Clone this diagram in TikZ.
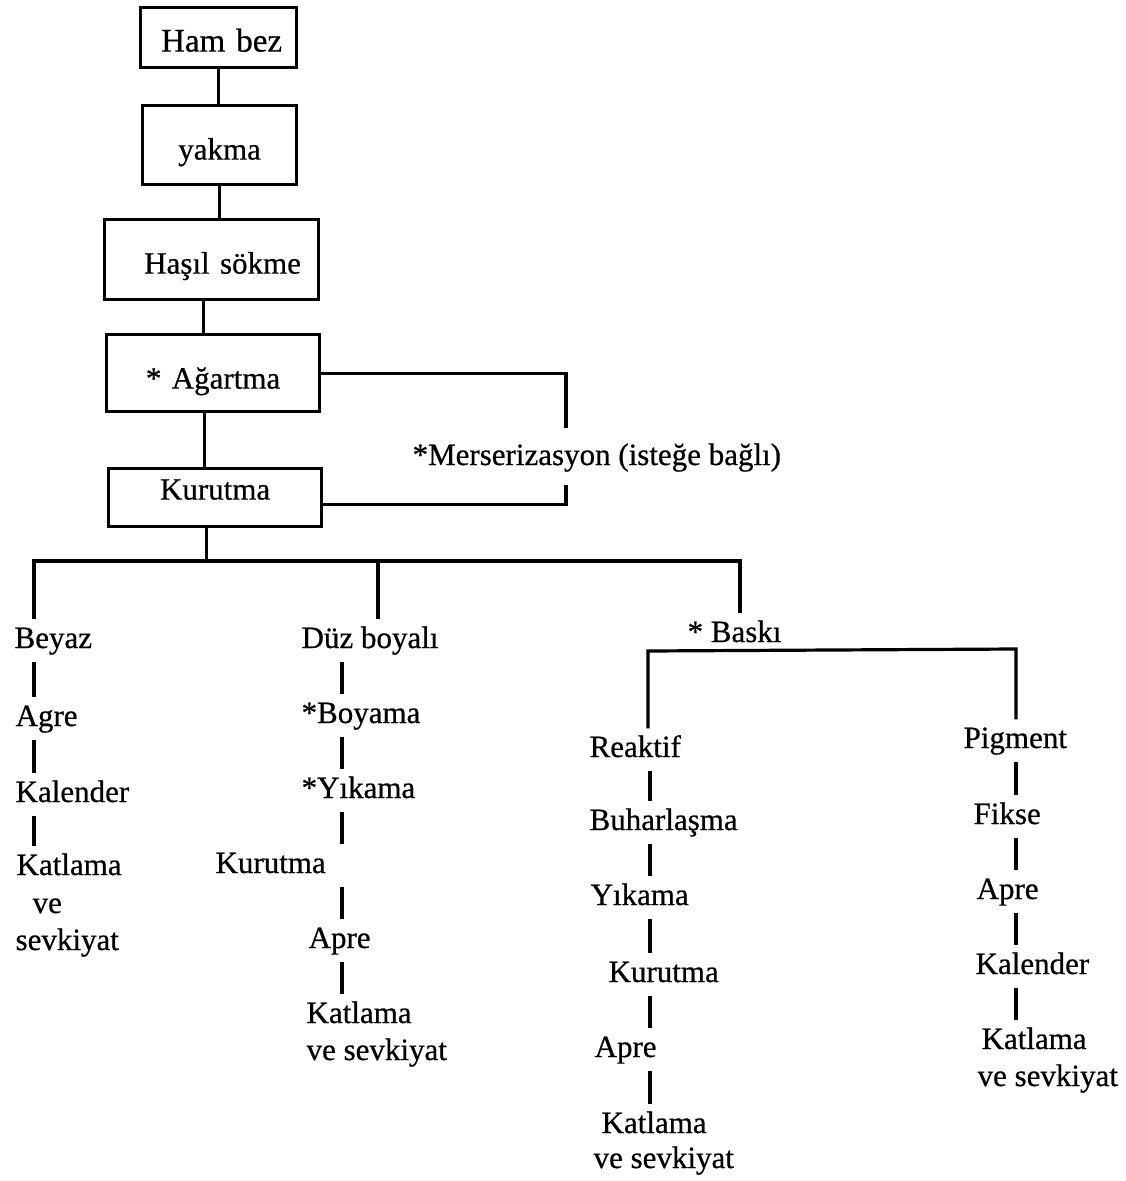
\documentclass[tikz,border=0pt]{standalone}
\usepackage{fontspec}
\setmainfont{Liberation Serif}
\newfontfamily\scanfont{Liberation Serif}[FakeBold=0.6]
\usetikzlibrary{calc}
\begin{document}
\begin{tikzpicture}[x=1pt,y=-1pt,line width=3.2pt,
  every node/.style={font=\scanfont\fontsize{31pt}{37pt}\selectfont},
  lbl/.style={inner xsep=0pt,inner ysep=5pt,text height=22pt,text depth=7pt,anchor=base west},
  boxnode/.style={draw,inner sep=0pt,align=center,anchor=north west}]
\useasboundingbox (0,0) rectangle (1125,1181);
% boxes
\node[boxnode,text width=156pt,text height=44pt,text depth=16pt,font=\scanfont\fontsize{33pt}{38pt}\selectfont] (ham) at (139,6) {\hspace*{6pt}Ham bez};
\node[boxnode,text width=154pt,text height=54pt,text depth=25pt] (yak) at (141,104) {yakma\hspace*{8pt}};
\node[boxnode,text width=214pt,text height=54pt,text depth=26pt] (has) at (103,218) {\hspace*{22pt}Haşıl sökme};
\node[boxnode,text width=213pt,text height=54pt,text depth=23pt] (ag) at (105,333) {* Ağartma\hspace*{13pt}};
\node[boxnode,text width=213pt,text height=31pt,text depth=27pt] (kur) at (107,467) {Kurutma};
\node[lbl] (mer) at (411,465) {*Merserizasyon (isteğe bağlı)};
% column 1
\node[lbl] (b1) at (13,648) {Beyaz};
\node[lbl] (b2) at (14,726) {Agre};
\node[lbl] (b3) at (14,802) {Kalender};
\node[lbl] (b4) at (15,875) {Katlama};
\node[lbl] (b4v) at (31,913) {ve};
\node[lbl] (b4s) at (14,950) {sevkiyat};
% column 2
\node[lbl] (d1) at (300,648) {Düz boyalı};
\node[lbl] (d2) at (300,723) {*Boyama};
\node[lbl] (d3) at (300,798) {*Yıkama};
\node[lbl] (d4) at (214,873) {Kurutma};
\node[lbl] (d5) at (307,948) {Apre};
\node[lbl] (d6) at (305,1023) {Katlama};
\node[lbl] (d6s) at (305,1060) {ve sevkiyat};
% column 3
\node[lbl] (bk) at (686,642) {* Baskı};
\node[lbl] (r1) at (588,757) {Reaktif};
\node[lbl] (r2) at (588,830) {Buharlaşma};
\node[lbl] (r3) at (589,905) {Yıkama};
\node[lbl] (r4) at (607,982) {Kurutma};
\node[lbl] (r5) at (593,1057) {Apre};
\node[lbl] (r6) at (600,1133) {Katlama};
\node[lbl] (r6s) at (592,1168) {ve sevkiyat};
% column 4
\node[lbl] (p1) at (962,748) {Pigment};
\node[lbl] (p2) at (972,824) {Fikse};
\node[lbl] (p3) at (975,899) {Apre};
\node[lbl] (p4) at (974,974) {Kalender};
\node[lbl] (p5) at (980,1049) {Katlama};
\node[lbl] (p5s) at (976,1086) {ve sevkiyat};
% helper coordinates
\coordinate (x1) at (34,0);
\coordinate (x2) at (342,0);
\coordinate (x3) at (650,0);
\coordinate (x4) at (1016,0);
\coordinate (hl) at (34,561);
\coordinate (hr) at (740,561);
\coordinate (dj) at (378,561);
\coordinate (bl) at (648,651);
\coordinate (br) at (1016,649);
\coordinate (m1) at (566,428);
\coordinate (m2) at (566,485);
\coordinate (c1) at ([xshift=-8pt]has.south);
\coordinate (c2) at ([xshift=-8.5pt]ag.south);
\coordinate (c3) at ([xshift=-8.5pt]kur.south);
% top chain
\draw (ham.south) -- (ham.south |- yak.north);
\draw (yak.south) -- (yak.south |- has.north);
\draw (c1) -- (c1 |- ag.north);
\draw (c2) -- (c2 |- kur.north);
\draw (c3) -- (c3 |- hl);
% mercerization loop
\draw (ag.east) -| (m1);
\draw ([yshift=-7pt]kur.east) -| (m2);
% main split
\draw (b1.north -| hl) -- (hl) -- (hr) -- (bk.north -| hr);
\draw (d1.north -| dj) -- (dj);
% print split
\draw (r1.north -| bl) -- (bl) -- (br) -- (p1.north -| br);
% column 1
\draw (b1.south -| x1) -- (b2.north -| x1);
\draw (b2.south -| x1) -- (b3.north -| x1);
\draw (b3.south -| x1) -- (b4.north -| x1);
% column 2
\draw (d1.south -| x2) -- (d2.north -| x2);
\draw (d2.south -| x2) -- (d3.north -| x2);
\draw (d3.south -| x2) -- (d4.north -| x2);
\draw (d4.south -| x2) -- (d5.north -| x2);
\draw (d5.south -| x2) -- (d6.north -| x2);
% column 3
\draw (r1.south -| x3) -- (r2.north -| x3);
\draw (r2.south -| x3) -- (r3.north -| x3);
\draw (r3.south -| x3) -- (r4.north -| x3);
\draw (r4.south -| x3) -- (r5.north -| x3);
\draw (r5.south -| x3) -- (r6.north -| x3);
% column 4
\draw (p1.south -| x4) -- (p2.north -| x4);
\draw (p2.south -| x4) -- (p3.north -| x4);
\draw (p3.south -| x4) -- (p4.north -| x4);
\draw (p4.south -| x4) -- (p5.north -| x4);
\end{tikzpicture}
\end{document}
